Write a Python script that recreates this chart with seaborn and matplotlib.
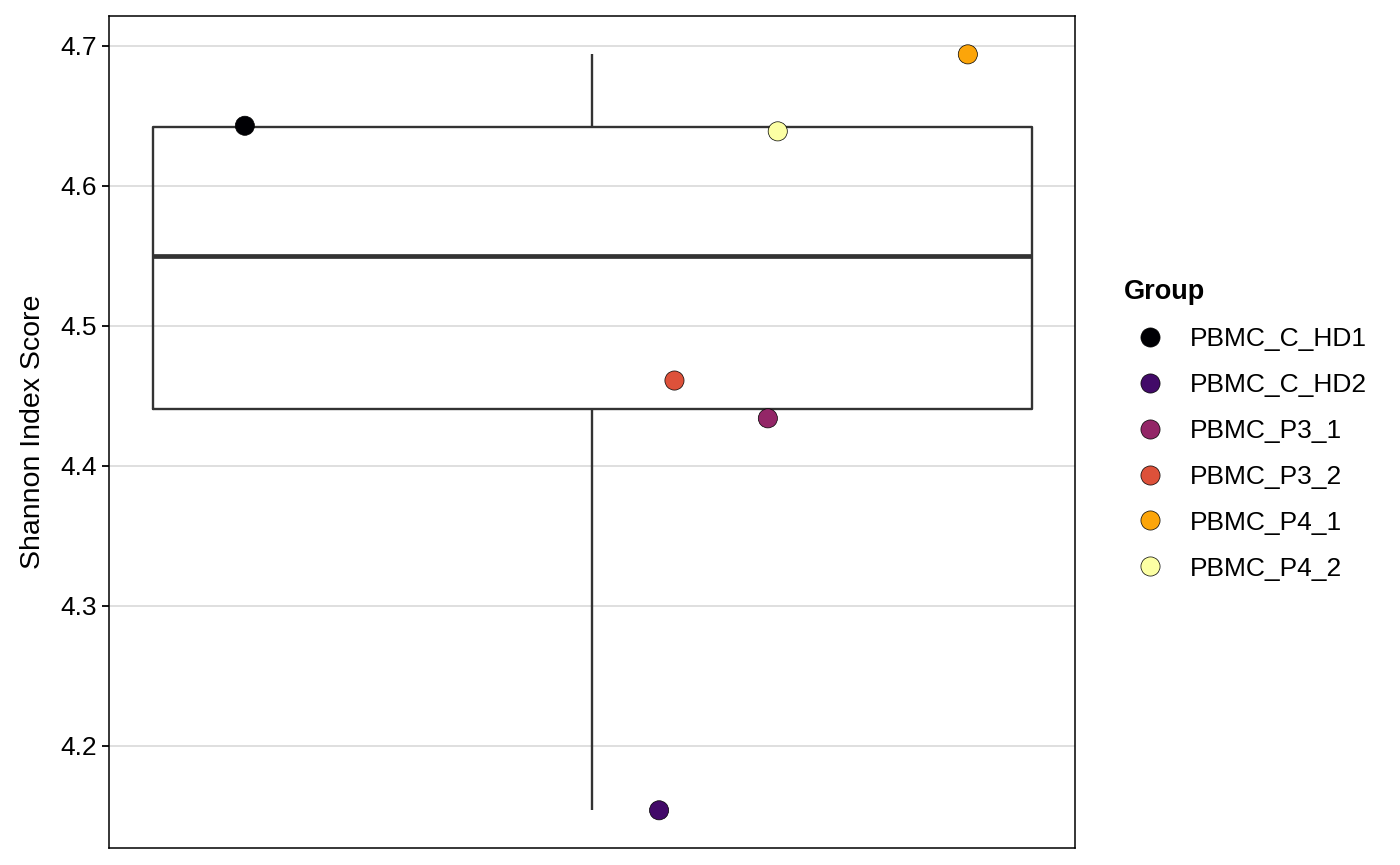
import pandas as pd
import matplotlib
matplotlib.use("Agg")
import matplotlib.pyplot as plt
import seaborn as sns

# ── Data ──────────────────────────────────────────────────────────────────────
groups = ["PBMC_C_HD1", "PBMC_C_HD2", "PBMC_P3_1", "PBMC_P3_2", "PBMC_P4_1", "PBMC_P4_2"]
shannon = [4.643, 4.154, 4.434, 4.461, 4.694, 4.639]
jitter = [-0.316, 0.061, 0.160, 0.075, 0.342, 0.169]
colors = ["#000004", "#420A68", "#932667", "#DD513A", "#FCA50A", "#FCFFA4"]

df = pd.DataFrame({"Group": groups, "score": shannon, "x": jitter})

# ── Style ─────────────────────────────────────────────────────────────────────
sns.set_theme(style="white")
plt.rcParams["font.family"] = ["Liberation Sans", "DejaVu Sans"]
plt.rcParams["text.color"] = "black"
plt.rcParams["axes.labelcolor"] = "black"

fig = plt.figure(figsize=(14, 8.65), dpi=100)
ax = fig.add_axes([0.0779, 0.0197, 0.690, 0.9618])

sns.boxplot(
    y=df["score"], ax=ax, width=0.8, fill=False, color="#333333",
    linewidth=1.7, showcaps=False, showfliers=False,
    medianprops={"linewidth": 3.4, "color": "#333333"},
    zorder=2,
)
sns.scatterplot(
    data=df, x="x", y="score", hue="Group", palette=colors,
    s=190, edgecolor="black", linewidth=0.5, ax=ax, zorder=3,
)

ax.set_xlim(-0.4396, 0.4396)
ax.set_ylim(4.1271, 4.7214)
ax.set_yticks([4.2, 4.3, 4.4, 4.5, 4.6, 4.7])
ax.set_xticks([])
ax.set_xlabel("")
ax.set_ylabel("Shannon Index Score", fontsize=20.5, labelpad=10, color="black")
ax.yaxis.grid(True, color="#dcdcdc", linewidth=1.3, zorder=0)
ax.set_axisbelow(True)
ax.tick_params(axis="y", left=True, length=5, width=1.3, color="black",
               labelsize=19, labelcolor="black", pad=4)
for sp in ax.spines.values():
    sp.set_visible(True)
    sp.set_color("black")
    sp.set_linewidth(1.1)

leg = ax.legend(
    title="Group", loc="center left", bbox_to_anchor=(0.7856, 0.503),
    bbox_transform=fig.transFigure, frameon=False, fontsize=19,
    title_fontproperties={"weight": "bold", "size": 19.5},
    labelspacing=0.83, handletextpad=0.5, alignment="left", markerscale=1.0,
)
for t in leg.get_texts():
    t.set_color("black")
leg.get_title().set_color("black")

fig.savefig("out.png", dpi=100)
